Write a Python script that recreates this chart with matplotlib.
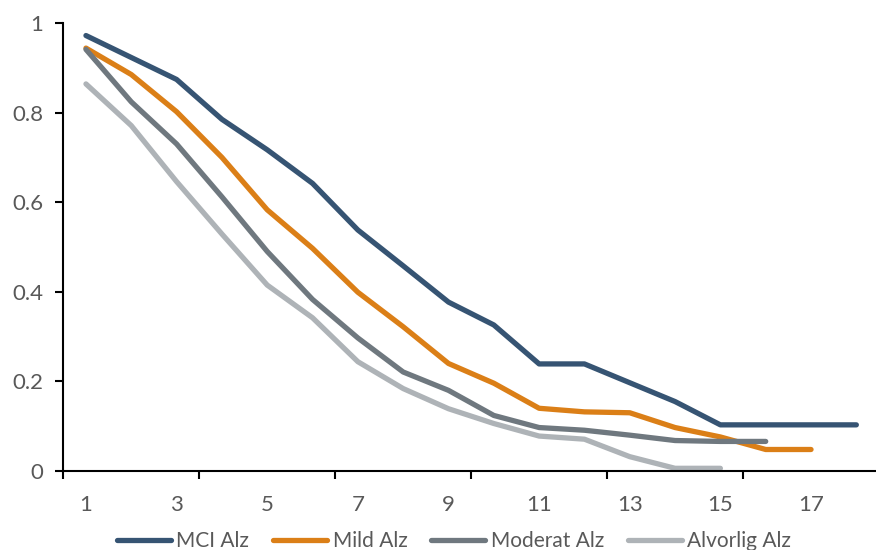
import matplotlib
matplotlib.use("Agg")
import matplotlib.pyplot as plt
from matplotlib.ticker import FixedLocator, NullFormatter, FixedFormatter

plt.rcParams['font.family'] = ['Lato', 'DejaVu Sans']

# Categories 1..18
categories = list(range(1, 19))

mci_alz = [0.972, 0.923, 0.874, 0.785, 0.717, 0.642, 0.538, 0.458, 0.377, 0.326,
           0.239, 0.239, 0.197, 0.155, 0.103, 0.103, 0.103, 0.103]
mild_alz = [0.944, 0.885, 0.802, 0.700, 0.583, 0.497, 0.399, 0.322, 0.240, 0.196,
            0.140, 0.132, 0.130, 0.097, 0.076, 0.048, 0.048]
moderat_alz = [0.941, 0.824, 0.730, 0.612, 0.490, 0.383, 0.297, 0.221, 0.180, 0.124,
               0.097, 0.091, 0.080, 0.068, 0.066, 0.066]
alvorlig_alz = [0.864, 0.771, 0.646, 0.529, 0.415, 0.342, 0.244, 0.184, 0.139, 0.106,
                0.078, 0.071, 0.032, 0.006, 0.006]

series = [
    ("MCI Alz", mci_alz, "#365473"),
    ("Mild Alz", mild_alz, "#DB7F17"),
    ("Moderat Alz", moderat_alz, "#6F787F"),
    ("Alvorlig Alz", alvorlig_alz, "#AEB3B7"),
]

x_labels = [str(c) for c in categories if c % 2 == 1]
y_ticks = [0, 0.2, 0.4, 0.6, 0.8, 1]
y_labels = ["0", "0.2", "0.4", "0.6", "0.8", "1"]

W, H = 876, 550
fig = plt.figure(figsize=(W / 100, H / 100), dpi=100)
left_px, right_px, top_px, bottom_px = 63.3, 879.0, 23.0, 471.0
ax = fig.add_axes([left_px / W, 1 - bottom_px / H,
                   (right_px - left_px) / W, (bottom_px - top_px) / H])

handles = []
for name, vals, color in series:
    h, = ax.plot(categories[:len(vals)], vals, color=color, lw=3.8,
                 solid_capstyle='round', solid_joinstyle='round', label=name,
                 clip_on=False)
    handles.append(h)

ax.set_xlim(0.5, 18.5)
ax.set_ylim(0, 1)

for side in ("top", "right"):
    ax.spines[side].set_visible(False)
for side in ("left", "bottom"):
    ax.spines[side].set_linewidth(1.5)
    ax.spines[side].set_color("black")

text_color = "#595959"
ax.set_yticks(y_ticks)
ax.set_yticklabels(y_labels)
ax.tick_params(axis='y', direction='out', length=5.5, width=1.5, pad=9,
               labelsize=16, labelcolor=text_color, color='black')

# major x ticks mark every third category boundary; labels sit on odd categories
ax.xaxis.set_major_locator(FixedLocator([0.5, 3.5, 6.5, 9.5, 12.5, 15.5]))
ax.xaxis.set_major_formatter(NullFormatter())
ax.xaxis.set_minor_locator(FixedLocator([c for c in categories if c % 2 == 1]))
ax.xaxis.set_minor_formatter(FixedFormatter(x_labels))
ax.tick_params(axis='x', which='major', direction='out', length=6, width=1.5,
               color='black')
ax.tick_params(axis='x', which='minor', length=0, pad=17, labelsize=16,
               labelcolor=text_color)

leg = fig.legend(handles=handles, loc='center', ncol=4,
                 bbox_to_anchor=(454 / W, 1 - 541 / H), frameon=False,
                 fontsize=15, handlelength=2.6, handletextpad=0.25,
                 columnspacing=1.15, labelcolor=text_color, borderpad=0)

fig.savefig("out.png", dpi=100)
